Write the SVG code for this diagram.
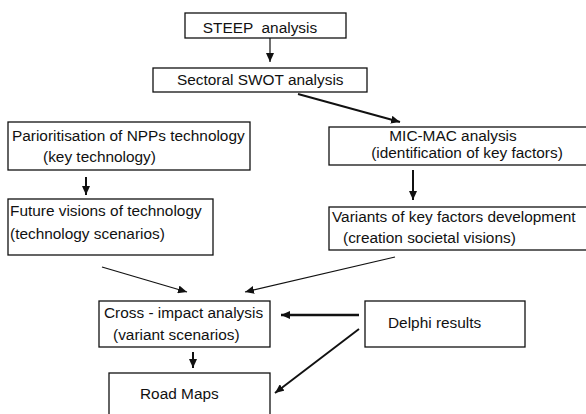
<svg xmlns="http://www.w3.org/2000/svg" width="586" height="414" viewBox="0 0 586 414">
<style>
.box{fill:#fff;stroke:#111;stroke-width:1.3}
.t{font-family:"Liberation Sans",Arial,sans-serif;font-size:15.4px;fill:#111;white-space:pre}
.c{stroke:#111;fill:none}
.thin{stroke-width:1.2}
.thick{stroke-width:2}
.heavy{stroke-width:2.6}
</style>
<defs>
<marker id="ah" markerUnits="userSpaceOnUse" markerWidth="10" markerHeight="8" refX="9" refY="4" orient="auto">
<path d="M0,0 L9,4 L0,8 Z" fill="#111"/>
</marker>
</defs>
<rect width="586" height="414" fill="#fff"/>
<g id="steep"><rect class="box" x="185" y="13" width="161" height="25"/><text class="t" x="260" y="33" text-anchor="middle" xml:space="preserve">STEEP  analysis</text></g>
<g id="swot"><rect class="box" x="153" y="68" width="214" height="24"/><text class="t" x="177" y="85">Sectoral SWOT analysis</text></g>
<g id="prior"><rect class="box" x="8" y="122" width="242" height="48"/><text class="t" x="12" y="141">Parioritisation of NPPs technology</text><text class="t" x="43" y="162">(key technology)</text></g>
<g id="micmac"><rect class="box" x="329" y="127" width="265" height="38"/><text class="t" x="453" y="141" text-anchor="middle">MIC-MAC analysis</text><text class="t" x="467" y="158" text-anchor="middle">(identification of key factors)</text></g>
<g id="future"><rect class="box" x="8" y="199" width="205" height="56"/><text class="t" x="10" y="216">Future visions of technology</text><text class="t" x="10" y="239">(technology scenarios)</text></g>
<g id="variants"><rect class="box" x="329" y="207" width="265" height="43"/><text class="t" x="332" y="222">Variants of key factors development</text><text class="t" x="343" y="243">(creation societal visions)</text></g>
<g id="cross"><rect class="box" x="99" y="301" width="171" height="46"/><text class="t" x="104" y="318">Cross - impact analysis</text><text class="t" x="113" y="340">(variant scenarios)</text></g>
<g id="delphi"><rect class="box" x="365" y="301" width="160" height="46"/><text class="t" x="388" y="328">Delphi results</text></g>
<g id="roadmaps"><rect class="box" x="109" y="373" width="161" height="50"/><text class="t" x="140" y="399">Road Maps</text></g>
<g id="connectors">
<line class="c thin" x1="270" y1="38" x2="270" y2="62" marker-end="url(#ah)"/>
<line class="c thick" x1="298" y1="94" x2="400" y2="122" marker-end="url(#ah)"/>
<line class="c thick" x1="86" y1="177" x2="86" y2="195" marker-end="url(#ah)"/>
<line class="c thick" x1="413" y1="170" x2="413" y2="200" marker-end="url(#ah)"/>
<line class="c thin" x1="102" y1="267" x2="187" y2="292" marker-end="url(#ah)"/>
<line class="c thin" x1="395" y1="257" x2="245" y2="292" marker-end="url(#ah)"/>
<line class="c heavy" x1="359" y1="315" x2="281" y2="315" marker-end="url(#ah)"/>
<line class="c thick" x1="359" y1="329" x2="275" y2="393" marker-end="url(#ah)"/>
<line class="c thick" x1="193" y1="352" x2="193" y2="368" marker-end="url(#ah)"/>
</g>
</svg>
